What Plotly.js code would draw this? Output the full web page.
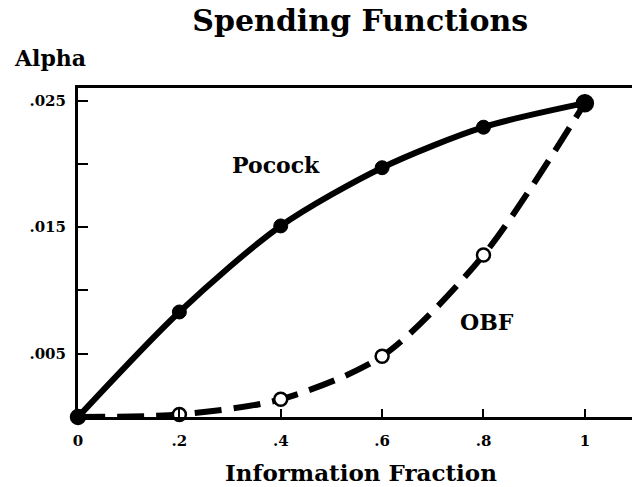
<!DOCTYPE html>
<html><head><meta charset="utf-8">
<script src="https://cdn.plot.ly/plotly-3.0.1.min.js"></script>
<style>body{margin:0;padding:0;background:#fff}#chart{width:632px;height:487px}</style>
</head><body><div id="chart"></div>
<script>
const infoFraction = [0, 0.2, 0.4, 0.6, 0.8, 1.0];
const pocockAlpha = [0, 0.0083, 0.0151, 0.0197, 0.0229, 0.0248];
const obfAlpha = [0, 0.0002, 0.0014, 0.0048, 0.0128, 0.0248];
const xTickVals = [0, 0.2, 0.4, 0.6, 0.8, 1];
const xTickText = ['0', '.2', '.4', '.6', '.8', '1'];
const yTickVals = [0.005, 0.010, 0.015, 0.020, 0.025];
const yTickText = ['.005', '', '.015', '', '.025'];

const serif = 'DejaVu Serif';
const traces = [
  {x: infoFraction, y: pocockAlpha, mode: 'lines+markers', name: 'Pocock',
   line: {color: '#000000', width: 6, shape: 'spline', smoothing: 0.8},
   marker: {color: '#000000', opacity: 1, size: [14,14,14,14,14,16], line: {color: '#000000', width: 1}},
   cliponaxis: false},
  {x: infoFraction, y: obfAlpha, mode: 'lines+markers', name: 'OBF',
   line: {color: '#000000', width: 6, shape: 'spline', smoothing: 0.8, dash: '27px,12px'},
   marker: {color: ['#000000','#ffffff','#ffffff','#ffffff','#ffffff','#000000'], opacity: 1,
            size: [14,13,13,13,13,16], line: {color: '#000000', width: 2.5}},
   cliponaxis: false}
];
const layout = {
  width: 632, height: 487,
  margin: {l: 78, r: 0, t: 88, b: 70},
  paper_bgcolor: '#fff', plot_bgcolor: '#fff',
  showlegend: false,
  font: {family: serif, color: '#000'},
  title: {text: '<b>Spending Functions</b>', x: 0.57, xanchor: 'center', y: 0.957, yanchor: 'middle',
          font: {family: serif, size: 30, color: '#000'}},
  xaxis: {range: [0, 1.093], tickvals: xTickVals, ticktext: xTickText,
          ticks: 'inside', ticklen: 8, tickwidth: 2, tickcolor: '#000',
          showline: true, linewidth: 3, linecolor: '#000', mirror: true,
          showgrid: false, zeroline: false, ticklabelstandoff: 8,
          tickfont: {family: serif, size: 15, color: '#000', weight: 'bold'}},
  yaxis: {range: [0, 0.026], tickvals: yTickVals, ticktext: yTickText,
          ticks: 'inside', ticklen: 10, tickwidth: 2, tickcolor: '#000',
          showline: true, linewidth: 3, linecolor: '#000', mirror: false,
          showgrid: false, zeroline: false, ticklabelstandoff: 6,
          tickfont: {family: serif, size: 15, color: '#000', weight: 'bold'}},
  annotations: [
    {xref: 'paper', yref: 'paper', x: -0.119, y: 1.091, xanchor: 'left', yanchor: 'middle', showarrow: false,
     text: '<b>Alpha</b>', font: {family: serif, size: 22, color: '#000'}},
    {xref: 'paper', yref: 'paper', x: 0.511, y: -0.170, xanchor: 'center', yanchor: 'middle', showarrow: false,
     text: '<b>Information Fraction</b>', font: {family: serif, size: 23, color: '#000'}},
    {xref: 'x', yref: 'y', x: 0.391, y: 0.0199, xanchor: 'center', yanchor: 'middle', showarrow: false,
     text: '<b>Pocock</b>', font: {family: serif, size: 22, color: '#000'}},
    {xref: 'x', yref: 'y', x: 0.807, y: 0.0075, xanchor: 'center', yanchor: 'middle', showarrow: false,
     text: '<b>OBF</b>', font: {family: serif, size: 22, color: '#000'}}
  ]
};
Plotly.newPlot('chart', traces, layout, {displayModeBar: false, staticPlot: true});
</script></body></html>
